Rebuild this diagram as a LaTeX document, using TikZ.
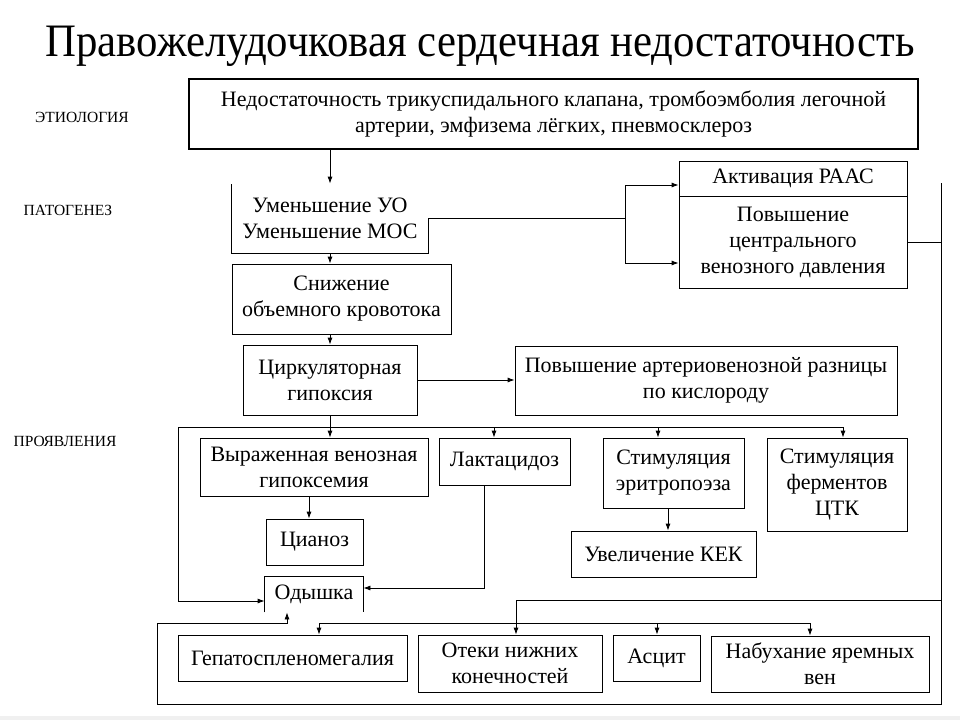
\documentclass[tikz,border=0pt]{standalone}
\usepackage{fontspec}
\setmainfont{Liberation Serif}
\usetikzlibrary{arrows.meta}

\tikzset{
  blk/.style={draw, line width=0.8pt, inner sep=0pt, align=center,
    font=\fontsize{22}{26}\selectfont},
  lbl/.style={font=\fontsize{15.5}{17}\selectfont},
  >={Latex[length=7pt,width=5pt]}
}

\begin{document}
\begin{tikzpicture}[x=1pt,y=-1pt,line width=0.8pt]
\useasboundingbox (0,0) rectangle (960,720);
\fill[black!6] (0,716) rectangle (960,720);

% title and row labels
\node[font=\fontsize{46.5}{52}\selectfont] (T) at (480,46) {\scalebox{0.92}[1]{Правожелудочковая сердечная недостаточность}};
\node[lbl] (L1) at (82,117) {ЭТИОЛОГИЯ};
\node[lbl] (L2) at (68,210) {ПАТОГЕНЕЗ};
\node[lbl] (L3) at (65,441) {ПРОЯВЛЕНИЯ};

% boxes
\node[blk, line width=1.8pt, minimum width=729pt, minimum height=70pt] (Etio) at (553.5,114)
  {Недостаточность трикуспидального клапана, тромбоэмболия легочной\\артерии, эмфизема лёгких, пневмосклероз};
\node[blk, draw=none, minimum width=196pt, minimum height=69pt] (UO) at (330,218.5) {Уменьшение УО\\Уменьшение МОС};
\draw (UO.east) -- (UO.south east) -- (UO.south west) -- (UO.north west);
\node[blk, minimum width=219pt, minimum height=70pt] (Snizh) at (341.5,299) {Снижение\\объемного кровотока};
\node[blk, minimum width=174pt, minimum height=70pt] (Cirk) at (330,380) {Циркуляторная\\гипоксия};
\node[blk, minimum width=382pt, minimum height=69pt] (ArtVen) at (706,380.5) {Повышение артериовенозной разницы\\по кислороду};
\node[blk, minimum width=228pt, minimum height=35pt] (RAASa) at (793,178.5) {Активация РААС};
\node[blk, minimum width=228pt, minimum height=92pt] (RAASb) at (793,242) {Повышение\\центрального\\венозного давления};
\node[blk, minimum width=228pt, minimum height=58pt] (Vyraz) at (314,467) {Выраженная венозная\\гипоксемия};
\node[blk, minimum width=131pt, minimum height=47pt] (Lakt) at (504.5,461.5) {Лактацидоз};
\node[blk, minimum width=141pt, minimum height=70pt] (Eritro) at (673.5,473) {Стимуляция\\эритропоэза};
\node[blk, minimum width=140pt, minimum height=93pt] (Ferm) at (837,484.5) {Стимуляция\\ферментов\\ЦТК};
\node[blk, minimum width=185pt, minimum height=46pt] (KEK) at (663.5,554) {Увеличение КЕК};
\node[blk, minimum width=97pt, minimum height=46pt] (Cian) at (314.5,542) {Цианоз};
\node[blk, draw=none, minimum width=98pt, minimum height=35pt] (Odysh) at (314,594.5) {Одышка};
\draw (Odysh.south west) -- (Odysh.north west) -- (Odysh.north east) -- (Odysh.south east);
\node[blk, minimum width=229pt, minimum height=46pt] (Gep) at (292.5,658) {Гепатоспленомегалия};
\node[blk, minimum width=184pt, minimum height=57pt] (Oteki) at (510,663.5) {Отеки нижних\\конечностей};
\node[blk, minimum width=87pt, minimum height=46pt] (Ascit) at (656.5,658) {Асцит};
\node[blk, minimum width=218pt, minimum height=56pt] (Nabuh) at (820,664) {Набухание яремных\\вен};

% points where lines turn
\coordinate (ra) at (625,185);
\coordinate (rb) at (625,263);
\coordinate (fr) at (941,183);
\coordinate (fb) at (941,704);
\coordinate (fl) at (157,704);
\coordinate (oa) at (287,623);
\coordinate (ot) at (516,600);
\coordinate (hl) at (178,427);
\coordinate (hd) at (178,601);
\coordinate (h1) at (494,427);
\coordinate (h2) at (658,427);
\coordinate (h3) at (843,427);
\coordinate (ek) at (668,508);
\coordinate (vc) at (309,496);
\coordinate (lk) at (484,588);
\coordinate (b1) at (319,623);
\coordinate (b2) at (657,623);
\coordinate (b3) at (810,623);

% pathogenesis chain
\draw[->] (UO.north |- Etio.south) -- (UO.north);
\draw[->] (UO.south) -- (UO.south |- Snizh.north);
\draw[->] (Cirk.north |- Snizh.south) -- (Cirk.north);
\draw[->] (Cirk.east) -- (Cirk.east -| ArtVen.west);
\draw (UO.east) -- (UO.east -| ra);
\draw[<->] (ra -| RAASa.west) -- (ra) -- (rb) -- (rb -| RAASb.west);

% right side and lower frame
\draw (RAASb.east) -- (RAASb.east -| fr);
\draw[->] (fr) -- (fb) -- (fl) |- (oa) -- (oa |- Odysh.south);
\draw[->] (ot -| fr) -- (ot) -- (ot |- Oteki.north);
\draw (b1) -- (b3);
\draw[->] (b1) -- (b1 |- Gep.north);
\draw[->] (b2) -- (b2 |- Ascit.north);
\draw[->] (b3) -- (b3 |- Nabuh.north);

% manifestations
\draw[->] (Cirk.south) -- (Cirk.south |- Vyraz.north);
\draw[->] (h3) -- (hl) -- (hd) -- (hd -| Odysh.west);
\draw[->] (h1) -- (h1 |- Lakt.north);
\draw[->] (h2) -- (h2 |- Eritro.north);
\draw[->] (h3) -- (h3 |- Ferm.north);
\draw[->] (ek) -- (ek |- KEK.north);
\draw[->] (vc) -- (vc |- Cian.north);
\draw[->] (Lakt.south -| lk) -- (lk) -- (lk -| Odysh.east);
\end{tikzpicture}
\end{document}
